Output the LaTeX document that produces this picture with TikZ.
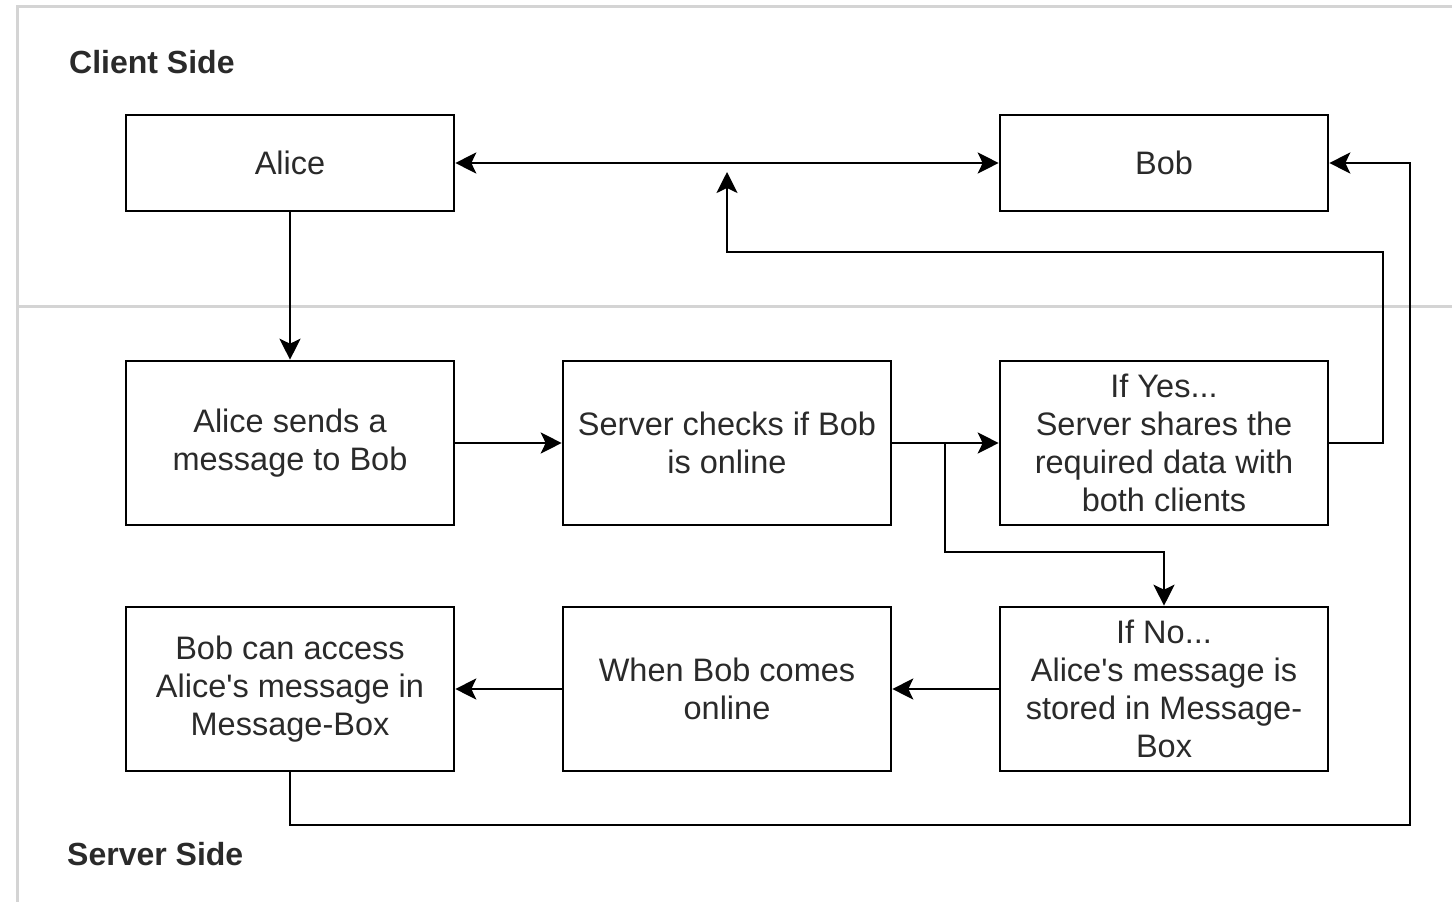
\documentclass[tikz,border=0pt]{standalone}
\usepackage{fontspec}
\setmainfont{Liberation Sans}
\usetikzlibrary{arrows.meta}
\definecolor{framegray}{HTML}{D4D4D4}
\definecolor{txt}{HTML}{2A2A2A}
\newcommand{\apos}{\textquotesingle}
\tikzset{
  box/.style={draw=black, line width=2.6pt, rectangle, minimum width=328pt,
    inner sep=0pt, align=center, text=txt,
    font=\fontsize{32.5}{38}\selectfont},
  smallbox/.style={box, minimum height=96pt},
  bigbox/.style={box, minimum height=164pt},
  conn/.style={line width=2.4pt, draw=black,
    -{Stealth[length=21pt, width=21pt, inset=5pt]}},
  biconn/.style={line width=2.4pt, draw=black,
    {Stealth[length=21pt, width=21pt, inset=5pt]}-{Stealth[length=21pt, width=21pt, inset=5pt]}},
  framelines/.style={draw=framegray, line width=3pt},
  sidelabel/.style={anchor=base west, inner sep=0pt, text=txt,
    font=\fontsize{32}{38}\selectfont\bfseries}
}
\begin{document}
\begin{tikzpicture}[x=1pt, y=-1pt]
  \useasboundingbox (0,0) rectangle (1452,902);

  % swimlane frame and divider
  \draw[framelines] (17,902) -- (17,6) -- (1452,6);
  \draw[framelines] (17,306) -- (1452,306);

  % lane titles
  \node[sidelabel] (client) at (69,73) {Client Side};
  \node[sidelabel] (server) at (67,865) {Server Side};

  % client side
  \node[smallbox] (alice) at (290,163) {Alice};
  \node[smallbox] (bob) at (1164,163) {Bob};

  % server side, first row
  \node[bigbox] (sends) at (290,443) {Alice sends a\\message to Bob};
  \node[bigbox] (checks) at (727,443) {Server checks if Bob\\is online};
  \node[bigbox] (yes) at (1164,443) {If Yes...\\Server shares the\\required data with\\both clients};

  % server side, second row
  \node[bigbox] (access) at (290,689) {Bob can access\\Alice\apos s message in\\Message-Box};
  \node[bigbox] (when) at (727,689) {When Bob comes\\online};
  \node[bigbox] (no) at (1164,689) {If No...\\Alice\apos s message is\\stored in Message-\\Box};

  % routing points
  \coordinate (split) at (945,443);
  \coordinate (dropy) at (945,552);
  \coordinate (railA) at (1383,252);
  \coordinate (tipA) at (727,172);
  \coordinate (railB) at (1410,825);

  % connectors
  \draw[biconn] (alice) -- (bob);
  \draw[conn] (alice) -- (sends);
  \draw[conn] (sends) -- (checks);
  \draw[conn] (checks) -- (yes);
  \draw[conn] (split) -- (dropy) -| (no.north);
  \draw[conn] (yes.east) -| (railA) -| (tipA);
  \draw[conn] (no) -- (when);
  \draw[conn] (when) -- (access);
  \draw[conn] (access.south) |- (railB) |- (bob.east);
\end{tikzpicture}
\end{document}
